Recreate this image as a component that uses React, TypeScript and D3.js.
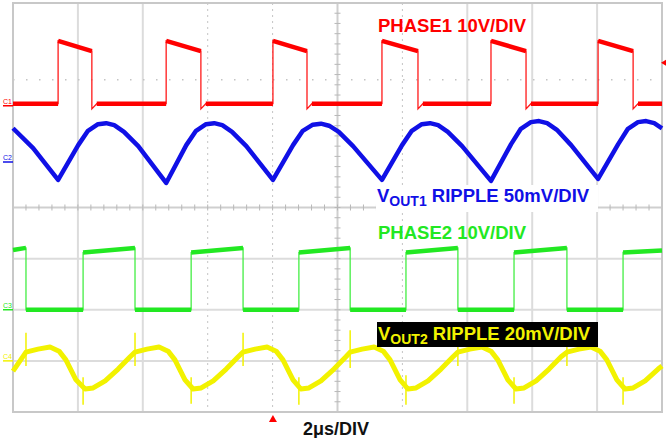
import React, { useRef, useEffect } from 'react';
import * as d3 from 'd3';

// time in µs (2µs/DIV, 10 divisions), level in screen divisions (8 divisions)
const timeTicks = [2, 4, 6, 8, 12, 14, 16, 18];
const dottedTimeTicks = [6, 8, 12];
const levelTicks = [1, 2, 3, 6.5];
const dottedLevelTicks = [6.5];

// PHASE1 switch node (red)
const phase1Rises = [1.39, 4.72, 8.01, 11.37, 14.73, 18.03];
const phase1Falls = [2.43, 5.79, 9.06, 12.48, 15.81, 19.11];
const phase1Low = 6.03;
const phase1HighStart = 7.26;
const phase1HighEnd = 7.06;
const phase1Undershoot = 5.93;

// PHASE2 switch node (green)
const phase2Falls = [0.4, 3.76, 7.09, 10.39, 13.71, 17.07];
const phase2Rises = [2.16, 5.49, 8.81, 12.11, 15.44, 18.8];
const phase2Low = 2.0;
const phase2HighStart = 3.12;
const phase2HighEnd = 3.21;

// VOUT1 ripple (blue), [time, level]
const vout1Ripple: [number, number][] = [
    [0, 5.55], [0.62, 5.16],
    [1.39, 4.54], [2.01, 5.22], [2.31, 5.5], [2.62, 5.63], [2.87, 5.65], [3.12, 5.61], [3.42, 5.48], [3.86, 5.2],
    [4.72, 4.48], [5.34, 5.22], [5.64, 5.5], [5.95, 5.63], [6.2, 5.65], [6.45, 5.61], [6.75, 5.48], [7.19, 5.2],
    [8.01, 4.54], [8.63, 5.22], [8.93, 5.5], [9.24, 5.62], [9.49, 5.64], [9.74, 5.6], [10.04, 5.48], [10.48, 5.2],
    [11.37, 4.54], [11.99, 5.22], [12.29, 5.5], [12.6, 5.63], [12.85, 5.65], [13.1, 5.61], [13.4, 5.48], [13.84, 5.2],
    [14.73, 4.52], [15.35, 5.24], [15.65, 5.54], [15.96, 5.67], [16.21, 5.69], [16.46, 5.65], [16.76, 5.52], [17.2, 5.22],
    [18.03, 4.56], [18.65, 5.24], [18.95, 5.54], [19.26, 5.67], [19.51, 5.69], [19.76, 5.65], [20, 5.55],
];

// VOUT2 ripple (yellow), [time, level]
const vout2Ripple: [number, number][] = [
    [0, 0.8],
    [0.4, 1.17], [0.77, 1.23], [1.14, 1.27], [1.42, 1.19], [1.63, 1.02], [1.94, 0.63], [2.22, 0.45], [2.47, 0.47], [2.84, 0.61], [3.24, 0.84], [3.61, 1.08],
    [3.76, 1.17], [4.13, 1.23], [4.5, 1.27], [4.78, 1.19], [4.99, 1.02], [5.3, 0.63], [5.55, 0.45], [5.8, 0.47], [6.17, 0.61], [6.57, 0.84], [6.94, 1.08],
    [7.09, 1.17], [7.46, 1.23], [7.83, 1.27], [8.11, 1.19], [8.32, 1.02], [8.63, 0.63], [8.87, 0.45], [9.12, 0.47], [9.49, 0.61], [9.89, 0.84], [10.26, 1.08],
    [10.39, 1.17], [10.76, 1.23], [11.13, 1.27], [11.41, 1.19], [11.62, 1.02], [11.93, 0.63], [12.17, 0.45], [12.42, 0.47], [12.79, 0.61], [13.19, 0.84], [13.56, 1.08],
    [13.71, 1.17], [14.08, 1.23], [14.45, 1.27], [14.73, 1.19], [14.94, 1.02], [15.25, 0.63], [15.5, 0.45], [15.75, 0.47], [16.12, 0.61], [16.52, 0.84], [16.89, 1.08],
    [17.07, 1.17], [17.44, 1.23], [17.81, 1.27], [18.09, 1.19], [18.3, 1.02], [18.61, 0.63], [18.86, 0.45], [19.11, 0.47], [19.48, 0.61], [19.88, 0.84], [20, 0.9],
];
// switching spikes on VOUT2: [time, top, bottom]
const vout2Spikes: [number, number, number][] = [
    [0.4, 1.55, 0.9], [3.76, 1.55, 0.9], [7.09, 1.55, 0.9], [10.39, 1.6, 0.86], [13.71, 1.55, 0.9], [17.07, 1.55, 0.9],
    [2.16, 0.68, 0.14], [5.49, 0.68, 0.16], [8.81, 0.68, 0.14], [12.11, 0.72, 0.14], [15.44, 0.68, 0.16], [18.8, 0.68, 0.14],
];

// channel ground markers
const channelNames = ['C1', 'C2', 'C3', 'C4'];
const channelLevels = [5.99, 4.89, 2.0, 1.0];
const channelColors = ['#ff0000', '#1010e6', '#22e822', '#f2f200'];

const App: React.FC = () => {
    const svgRef = useRef<SVGSVGElement | null>(null);

    useEffect(() => {
        const svg = d3.select(svgRef.current);
        svg.selectAll('*').remove();

        const x = d3.scaleLinear().domain([0, 20]).range([13, 662]);
        const y = d3.scaleLinear().domain([0, 8]).range([412, 3]);

        const grid = svg.append('g');

        // grid lines
        timeTicks.forEach(t => {
            const dotted = dottedTimeTicks.includes(t);
            grid.append('line')
                .attr('x1', x(t)).attr('x2', x(t))
                .attr('y1', y(8)).attr('y2', y(0))
                .attr('stroke', dotted ? '#c4c4c4' : '#dcdcdc')
                .attr('stroke-width', dotted ? 1 : 2)
                .attr('stroke-dasharray', dotted ? '2,4' : null);
        });
        levelTicks.forEach(v => {
            const dotted = dottedLevelTicks.includes(v);
            grid.append('line')
                .attr('x1', x(0)).attr('x2', x(20))
                .attr('y1', y(v)).attr('y2', y(v))
                .attr('stroke', dotted ? '#c4c4c4' : '#dcdcdc')
                .attr('stroke-width', dotted ? 1.5 : 2)
                .attr('stroke-dasharray', dotted ? '1.5,11.5' : null);
        });

        // centre cross with minor ticks
        grid.append('line')
            .attr('x1', x(0)).attr('x2', x(20)).attr('y1', y(4)).attr('y2', y(4))
            .attr('stroke', '#cfcfcf').attr('stroke-width', 2);
        grid.append('line')
            .attr('x1', x(10)).attr('x2', x(10)).attr('y1', y(8)).attr('y2', y(0))
            .attr('stroke', '#cfcfcf').attr('stroke-width', 2);
        d3.range(0, 20.01, 0.4).forEach(t => {
            grid.append('line')
                .attr('x1', x(t)).attr('x2', x(t)).attr('y1', y(4) - 3).attr('y2', y(4) + 3)
                .attr('stroke', '#b8b8b8').attr('stroke-width', 1);
        });
        d3.range(0, 8.01, 0.2).forEach(v => {
            grid.append('line')
                .attr('x1', x(10) - 3).attr('x2', x(10) + 3).attr('y1', y(v)).attr('y2', y(v))
                .attr('stroke', '#b8b8b8').attr('stroke-width', 1);
        });

        // frame
        grid.append('rect')
            .attr('x', x(0)).attr('y', y(8))
            .attr('width', x(20) - x(0)).attr('height', y(0) - y(8))
            .attr('fill', 'none').attr('stroke', '#c8c8c8').attr('stroke-width', 2);

        const line = d3.line<[number, number]>().x(d => x(d[0])).y(d => y(d[1]));

        // PHASE1 (red)
        const p1: [number, number][] = [[0, phase1Low]];
        const p1Flat: [number, number][][] = [];
        let lastT = 0;
        phase1Rises.forEach((r, i) => {
            const f = phase1Falls[i];
            p1Flat.push([[lastT, phase1Low], [r, phase1Low]]);
            p1Flat.push([[r, phase1HighStart], [f, phase1HighEnd]]);
            p1.push([r, phase1Low], [r, phase1HighStart], [f, phase1HighEnd], [f, phase1Undershoot], [f + 0.15, phase1Low]);
            lastT = f + 0.15;
        });
        p1.push([20, phase1Low]);
        p1Flat.push([[lastT, phase1Low], [20, phase1Low]]);

        svg.append('path').attr('d', line(p1)).attr('fill', 'none')
            .attr('stroke', '#ff1a1a').attr('stroke-width', 1.3);
        p1Flat.forEach(seg => {
            svg.append('path').attr('d', line(seg)).attr('fill', 'none')
                .attr('stroke', '#ff0000').attr('stroke-width', 4.5);
        });

        // VOUT1 ripple (blue)
        svg.append('path').attr('d', line(vout1Ripple)).attr('fill', 'none')
            .attr('stroke', '#1010e6').attr('stroke-width', 4.5).attr('stroke-linejoin', 'round');

        // PHASE2 (green)
        const p2: [number, number][] = [[0, phase2HighEnd - 0.04]];
        const p2Flat: [number, number][][] = [];
        let start = 0;
        let startLevel = phase2HighEnd - 0.04;
        phase2Falls.forEach((f, i) => {
            const r = phase2Rises[i];
            p2Flat.push([[start, startLevel], [f, phase2HighEnd]]);
            p2Flat.push([[f, phase2Low], [r, phase2Low]]);
            p2.push([f, phase2HighEnd], [f, phase2Low], [r, phase2Low], [r, phase2HighStart]);
            start = r;
            startLevel = phase2HighStart;
        });
        p2.push([20, phase2HighStart + 0.04]);
        p2Flat.push([[start, startLevel], [20, phase2HighStart + 0.04]]);

        svg.append('path').attr('d', line(p2)).attr('fill', 'none')
            .attr('stroke', '#44ee44').attr('stroke-width', 1.3);
        p2Flat.forEach(seg => {
            svg.append('path').attr('d', line(seg)).attr('fill', 'none')
                .attr('stroke', '#22e822').attr('stroke-width', 4.5);
        });

        // VOUT2 ripple (yellow)
        svg.append('path').attr('d', line(vout2Ripple)).attr('fill', 'none')
            .attr('stroke', '#f2f200').attr('stroke-width', 5).attr('stroke-linejoin', 'round');
        vout2Spikes.forEach(s => {
            svg.append('line')
                .attr('x1', x(s[0])).attr('x2', x(s[0]))
                .attr('y1', y(s[1])).attr('y2', y(s[2]))
                .attr('stroke', '#f2f200').attr('stroke-width', 1.5);
        });

        // channel markers on the left
        channelNames.forEach((name, i) => {
            svg.append('text')
                .attr('x', 3).attr('y', y(channelLevels[i]) - 2)
                .attr('font-family', 'Liberation Sans, Arial, sans-serif')
                .attr('font-size', 7)
                .attr('fill', channelColors[i])
                .text(name);
            svg.append('line')
                .attr('x1', 3).attr('x2', x(0))
                .attr('y1', y(channelLevels[i])).attr('y2', y(channelLevels[i]))
                .attr('stroke', channelColors[i]).attr('stroke-width', 1.5);
        });

        // trigger markers
        svg.append('path')
            .attr('d', `M${x(8.01)},${y(0) + 3} l-4,7 l8,0 z`)
            .attr('fill', '#ff0000');
        svg.append('path')
            .attr('d', `M${x(20) - 1},${y(6.83)} l5,-3 l0,6 z`)
            .attr('fill', '#ff0000');

        // labels
        const font = 'Liberation Sans, Arial, sans-serif';
        svg.append('text')
            .attr('x', 378).attr('y', 32)
            .attr('font-family', font).attr('font-weight', 'bold').attr('font-size', 18.5)
            .attr('fill', '#ff0000')
            .text('PHASE1 10V/DIV');

        svg.append('rect')
            .attr('x', 376).attr('y', 185).attr('width', 222).attr('height', 27)
            .attr('fill', '#ffffff');
        const v1 = svg.append('text')
            .attr('x', 377).attr('y', 202)
            .attr('font-family', font).attr('font-weight', 'bold').attr('font-size', 18.5)
            .attr('fill', '#1010e6');
        v1.append('tspan').text('V');
        v1.append('tspan').attr('font-size', 14).attr('dy', 4).text('OUT1');
        v1.append('tspan').attr('dy', -4).text(' RIPPLE 50mV/DIV');

        svg.append('text')
            .attr('x', 378).attr('y', 239)
            .attr('font-family', font).attr('font-weight', 'bold').attr('font-size', 18.5)
            .attr('fill', '#22e822')
            .text('PHASE2 10V/DIV');

        svg.append('rect')
            .attr('x', 377).attr('y', 322).attr('width', 221).attr('height', 25)
            .attr('fill', '#000000');
        const v2 = svg.append('text')
            .attr('x', 378).attr('y', 340)
            .attr('font-family', font).attr('font-weight', 'bold').attr('font-size', 18.5)
            .attr('fill', '#f2f200');
        v2.append('tspan').text('V');
        v2.append('tspan').attr('font-size', 14).attr('dy', 4).text('OUT2');
        v2.append('tspan').attr('dy', -4).text(' RIPPLE 20mV/DIV');

        svg.append('text')
            .attr('x', 303).attr('y', 435)
            .attr('font-family', font).attr('font-weight', 'bold').attr('font-size', 18)
            .attr('fill', '#111111')
            .text('2μs/DIV');
    }, []);

    return (
        <svg
            ref={svgRef}
            width={670}
            height={438}
            style={{ position: 'absolute', left: 0, top: 0, background: '#ffffff' }}
        />
    );
};

export default App;
